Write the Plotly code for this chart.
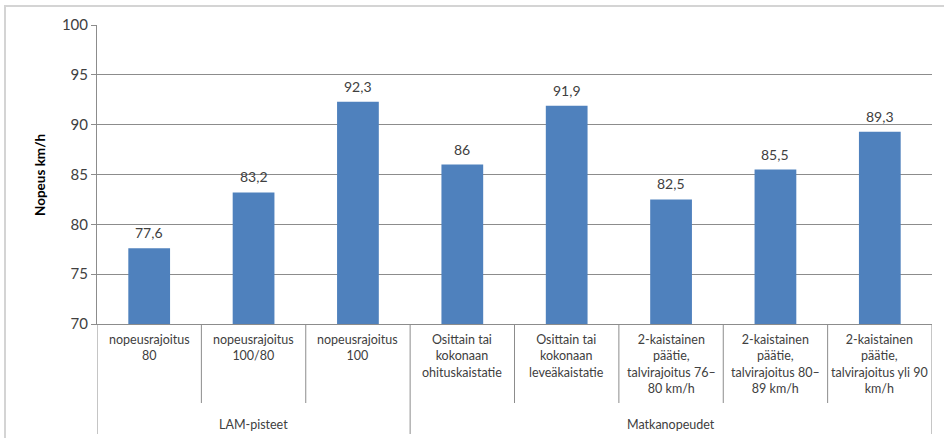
import plotly.graph_objects as go

categories = [
    "nopeusrajoitus<br>80",
    "nopeusrajoitus<br>100/80",
    "nopeusrajoitus<br>100",
    "Osittain tai<br>kokonaan<br>ohituskaistatie",
    "Osittain tai<br>kokonaan<br>leveäkaistatie",
    "2-kaistainen<br>päätie,<br>talvirajoitus 76–<br>80 km/h",
    "2-kaistainen<br>päätie,<br>talvirajoitus 80–<br>89 km/h",
    "2-kaistainen<br>päätie,<br>talvirajoitus yli 90<br>km/h",
]
values = [77.6, 83.2, 92.3, 86, 91.9, 82.5, 85.5, 89.3]
groups = ["LAM-pisteet", "Matkanopeudet"]
group_sizes = [3, 5]
y_ticks = [70, 75, 80, 85, 90, 95, 100]

W, H = 944, 438
L, R, T, B = 97, 12, 25, 114
PW, PH = W - L - R, H - T - B

def px_x(px):
    return (px - L) / PW

def px_y(py):
    return (H - B - py) / PH

FONT = "Lato, 'Open Sans', sans-serif"
GRID = "#8c8c8c"
TXT = "#404040"

xs = list(range(len(values)))
labels = [f"{v:g}".replace(".", ",") for v in values]

fig = go.Figure()
fig.add_trace(go.Bar(
    x=xs, y=values,
    marker=dict(color="#4F81BD", line=dict(width=0)),
    showlegend=False, hoverinfo="skip",
))

annotations = []
shapes = []

# data labels
for x, v, t in zip(xs, values, labels):
    annotations.append(dict(
        x=x, y=v, xref="x", yref="y", text=t, showarrow=False,
        xanchor="center", yanchor="bottom", yshift=5,
        font=dict(family=FONT, size=14, color=TXT),
    ))

# category labels
for i, c in enumerate(categories):
    annotations.append(dict(
        x=i, y=px_y(330), xref="x", yref="paper", text=c, showarrow=False,
        xanchor="center", yanchor="top", align="center",
        font=dict(family=FONT, size=12.5, color=TXT),
    ))

# inner separators and group separators
start = 0
bounds = [-0.5]
for g, n in zip(groups, group_sizes):
    center = start + (n - 1) / 2
    annotations.append(dict(
        x=center, y=px_y(424), xref="x", yref="paper", text=g, showarrow=False,
        xanchor="center", yanchor="middle",
        font=dict(family=FONT, size=12.5, color=TXT),
    ))
    for k in range(1, n):
        b = start + k - 0.5
        shapes.append(dict(type="line", xref="x", yref="paper", x0=b, x1=b,
                           y0=px_y(324), y1=px_y(403),
                           line=dict(color=GRID, width=1)))
    start += n
    bounds.append(start - 0.5)
for b in bounds:
    shapes.append(dict(type="line", xref="x", yref="paper", x0=b, x1=b,
                       y0=px_y(324), y1=px_y(434),
                       line=dict(color=GRID, width=1)))

# outer chart border
shapes.append(dict(type="rect", xref="paper", yref="paper",
                   x0=px_x(5), x1=px_x(952), y0=px_y(446), y1=px_y(6),
                   line=dict(color="#d4d4d4", width=2), layer="below"))

# y axis title
annotations.append(dict(
    x=px_x(40), y=px_y(175), xref="paper", yref="paper", text="<b>Nopeus km/h</b>",
    showarrow=False, textangle=-90, xanchor="center", yanchor="middle",
    font=dict(family=FONT, size=13.5, color="#000000"),
))

fig.update_layout(
    width=W, height=H,
    margin=dict(l=L, r=R, t=T, b=B, pad=0),
    paper_bgcolor="white", plot_bgcolor="white",
    bargap=0.6,
    annotations=annotations, shapes=shapes,
    xaxis=dict(range=[-0.5, 7.5], showticklabels=False, showgrid=False,
               zeroline=False, showline=True, linecolor=GRID, linewidth=1,
               ticks="", fixedrange=True),
    yaxis=dict(range=[70, 100], tickvals=y_ticks, showgrid=True, gridcolor=GRID,
               gridwidth=1, zeroline=False, showline=True, linecolor=GRID,
               linewidth=1, ticks="outside", ticklen=5, tickcolor=GRID,
               tickfont=dict(family=FONT, size=15, color=TXT), fixedrange=True),
)

fig.write_html("out.html")
